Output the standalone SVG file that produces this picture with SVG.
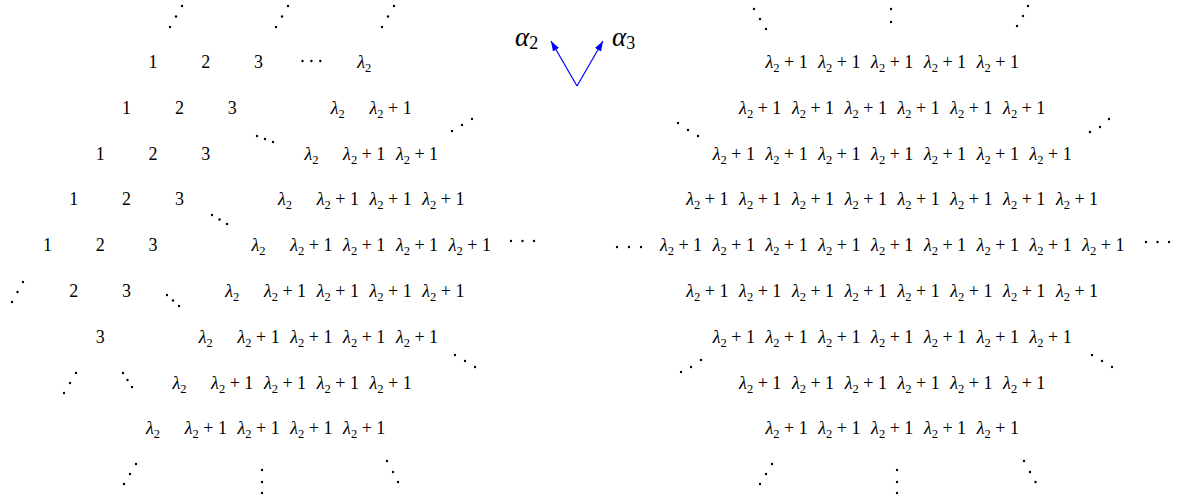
<svg xmlns="http://www.w3.org/2000/svg" width="1182" height="504" viewBox="0 0 1182 504">
<style>
text{font-family:"Liberation Serif","Times New Roman",serif;font-size:18px;fill:#000;text-anchor:middle}
.i{font-style:italic}
.s{font-size:12.5px}
.a{font-size:27px;text-anchor:start}
.as{font-size:18px}
.d circle{fill:#000}
.c line{stroke:#0000ff;stroke-width:1.2;marker-end:url(#ah)}
</style>
<defs><marker id="ah" markerUnits="userSpaceOnUse" markerWidth="11" markerHeight="8" refX="10" refY="3.5" orient="auto"><path d="M0,0 L10,3.5 L0,7 z" fill="#0000ff"/></marker></defs>
<rect width="1182" height="504" fill="#fff"/>
<g id="alpha2"><text class="a" x="515" y="46"><tspan class="i">α</tspan><tspan class="as" dy="3">2</tspan></text></g>
<g id="alpha3"><text class="a" x="612" y="46"><tspan class="i">α</tspan><tspan class="as" dy="3">3</tspan></text></g>
<g id="connectors" class="c"><line x1="577" y1="86" x2="551" y2="41"/><line x1="577" y1="86" x2="603" y2="41"/></g>
<g id="left">
<g id="n0_0"><text x="153" y="68">1</text></g>
<g id="n0_1"><text x="205.8" y="68">2</text></g>
<g id="n0_2"><text x="258.6" y="68">3</text></g>
<g id="n0_4"><text x="364.2" y="68"><tspan class="i">λ</tspan><tspan class="s" dy="4">2</tspan></text></g>
<g id="n1_0"><text x="126.6" y="113.8">1</text></g>
<g id="n1_1"><text x="179.4" y="113.8">2</text></g>
<g id="n1_2"><text x="232.2" y="113.8">3</text></g>
<g id="n1_4"><text x="337.8" y="113.8"><tspan class="i">λ</tspan><tspan class="s" dy="4">2</tspan></text></g>
<g id="n1_5"><text x="390.6" y="113.8"><tspan class="i">λ</tspan><tspan class="s" dy="4">2</tspan><tspan dy="-4"> + 1</tspan></text></g>
<g id="n2_0"><text x="100.2" y="159.6">1</text></g>
<g id="n2_1"><text x="153" y="159.6">2</text></g>
<g id="n2_2"><text x="205.8" y="159.6">3</text></g>
<g id="n2_4"><text x="311.4" y="159.6"><tspan class="i">λ</tspan><tspan class="s" dy="4">2</tspan></text></g>
<g id="n2_5"><text x="364.2" y="159.6"><tspan class="i">λ</tspan><tspan class="s" dy="4">2</tspan><tspan dy="-4"> + 1</tspan></text></g>
<g id="n2_6"><text x="417" y="159.6"><tspan class="i">λ</tspan><tspan class="s" dy="4">2</tspan><tspan dy="-4"> + 1</tspan></text></g>
<g id="n3_0"><text x="73.8" y="205.4">1</text></g>
<g id="n3_1"><text x="126.6" y="205.4">2</text></g>
<g id="n3_2"><text x="179.4" y="205.4">3</text></g>
<g id="n3_4"><text x="285" y="205.4"><tspan class="i">λ</tspan><tspan class="s" dy="4">2</tspan></text></g>
<g id="n3_5"><text x="337.8" y="205.4"><tspan class="i">λ</tspan><tspan class="s" dy="4">2</tspan><tspan dy="-4"> + 1</tspan></text></g>
<g id="n3_6"><text x="390.6" y="205.4"><tspan class="i">λ</tspan><tspan class="s" dy="4">2</tspan><tspan dy="-4"> + 1</tspan></text></g>
<g id="n3_7"><text x="443.4" y="205.4"><tspan class="i">λ</tspan><tspan class="s" dy="4">2</tspan><tspan dy="-4"> + 1</tspan></text></g>
<g id="n4_0"><text x="47.4" y="251.2">1</text></g>
<g id="n4_1"><text x="100.2" y="251.2">2</text></g>
<g id="n4_2"><text x="153" y="251.2">3</text></g>
<g id="n4_4"><text x="258.6" y="251.2"><tspan class="i">λ</tspan><tspan class="s" dy="4">2</tspan></text></g>
<g id="n4_5"><text x="311.4" y="251.2"><tspan class="i">λ</tspan><tspan class="s" dy="4">2</tspan><tspan dy="-4"> + 1</tspan></text></g>
<g id="n4_6"><text x="364.2" y="251.2"><tspan class="i">λ</tspan><tspan class="s" dy="4">2</tspan><tspan dy="-4"> + 1</tspan></text></g>
<g id="n4_7"><text x="417" y="251.2"><tspan class="i">λ</tspan><tspan class="s" dy="4">2</tspan><tspan dy="-4"> + 1</tspan></text></g>
<g id="n4_8"><text x="469.8" y="251.2"><tspan class="i">λ</tspan><tspan class="s" dy="4">2</tspan><tspan dy="-4"> + 1</tspan></text></g>
<g id="n5_1"><text x="73.8" y="297">2</text></g>
<g id="n5_2"><text x="126.6" y="297">3</text></g>
<g id="n5_4"><text x="232.2" y="297"><tspan class="i">λ</tspan><tspan class="s" dy="4">2</tspan></text></g>
<g id="n5_5"><text x="285" y="297"><tspan class="i">λ</tspan><tspan class="s" dy="4">2</tspan><tspan dy="-4"> + 1</tspan></text></g>
<g id="n5_6"><text x="337.8" y="297"><tspan class="i">λ</tspan><tspan class="s" dy="4">2</tspan><tspan dy="-4"> + 1</tspan></text></g>
<g id="n5_7"><text x="390.6" y="297"><tspan class="i">λ</tspan><tspan class="s" dy="4">2</tspan><tspan dy="-4"> + 1</tspan></text></g>
<g id="n5_8"><text x="443.4" y="297"><tspan class="i">λ</tspan><tspan class="s" dy="4">2</tspan><tspan dy="-4"> + 1</tspan></text></g>
<g id="n6_2"><text x="100.2" y="342.8">3</text></g>
<g id="n6_4"><text x="205.8" y="342.8"><tspan class="i">λ</tspan><tspan class="s" dy="4">2</tspan></text></g>
<g id="n6_5"><text x="258.6" y="342.8"><tspan class="i">λ</tspan><tspan class="s" dy="4">2</tspan><tspan dy="-4"> + 1</tspan></text></g>
<g id="n6_6"><text x="311.4" y="342.8"><tspan class="i">λ</tspan><tspan class="s" dy="4">2</tspan><tspan dy="-4"> + 1</tspan></text></g>
<g id="n6_7"><text x="364.2" y="342.8"><tspan class="i">λ</tspan><tspan class="s" dy="4">2</tspan><tspan dy="-4"> + 1</tspan></text></g>
<g id="n6_8"><text x="417" y="342.8"><tspan class="i">λ</tspan><tspan class="s" dy="4">2</tspan><tspan dy="-4"> + 1</tspan></text></g>
<g id="n7_4"><text x="179.4" y="388.6"><tspan class="i">λ</tspan><tspan class="s" dy="4">2</tspan></text></g>
<g id="n7_5"><text x="232.2" y="388.6"><tspan class="i">λ</tspan><tspan class="s" dy="4">2</tspan><tspan dy="-4"> + 1</tspan></text></g>
<g id="n7_6"><text x="285" y="388.6"><tspan class="i">λ</tspan><tspan class="s" dy="4">2</tspan><tspan dy="-4"> + 1</tspan></text></g>
<g id="n7_7"><text x="337.8" y="388.6"><tspan class="i">λ</tspan><tspan class="s" dy="4">2</tspan><tspan dy="-4"> + 1</tspan></text></g>
<g id="n7_8"><text x="390.6" y="388.6"><tspan class="i">λ</tspan><tspan class="s" dy="4">2</tspan><tspan dy="-4"> + 1</tspan></text></g>
<g id="n8_4"><text x="153" y="434.4"><tspan class="i">λ</tspan><tspan class="s" dy="4">2</tspan></text></g>
<g id="n8_5"><text x="205.8" y="434.4"><tspan class="i">λ</tspan><tspan class="s" dy="4">2</tspan><tspan dy="-4"> + 1</tspan></text></g>
<g id="n8_6"><text x="258.6" y="434.4"><tspan class="i">λ</tspan><tspan class="s" dy="4">2</tspan><tspan dy="-4"> + 1</tspan></text></g>
<g id="n8_7"><text x="311.4" y="434.4"><tspan class="i">λ</tspan><tspan class="s" dy="4">2</tspan><tspan dy="-4"> + 1</tspan></text></g>
<g id="n8_8"><text x="364.2" y="434.4"><tspan class="i">λ</tspan><tspan class="s" dy="4">2</tspan><tspan dy="-4"> + 1</tspan></text></g>
</g>
<g id="right">
<g id="m0_12"><text x="786.6" y="68"><tspan class="i">λ</tspan><tspan class="s" dy="4">2</tspan><tspan dy="-4"> + 1</tspan></text></g>
<g id="m0_13"><text x="839.4" y="68"><tspan class="i">λ</tspan><tspan class="s" dy="4">2</tspan><tspan dy="-4"> + 1</tspan></text></g>
<g id="m0_14"><text x="892.2" y="68"><tspan class="i">λ</tspan><tspan class="s" dy="4">2</tspan><tspan dy="-4"> + 1</tspan></text></g>
<g id="m0_15"><text x="945" y="68"><tspan class="i">λ</tspan><tspan class="s" dy="4">2</tspan><tspan dy="-4"> + 1</tspan></text></g>
<g id="m0_16"><text x="997.8" y="68"><tspan class="i">λ</tspan><tspan class="s" dy="4">2</tspan><tspan dy="-4"> + 1</tspan></text></g>
<g id="m1_12"><text x="760.2" y="113.8"><tspan class="i">λ</tspan><tspan class="s" dy="4">2</tspan><tspan dy="-4"> + 1</tspan></text></g>
<g id="m1_13"><text x="813" y="113.8"><tspan class="i">λ</tspan><tspan class="s" dy="4">2</tspan><tspan dy="-4"> + 1</tspan></text></g>
<g id="m1_14"><text x="865.8" y="113.8"><tspan class="i">λ</tspan><tspan class="s" dy="4">2</tspan><tspan dy="-4"> + 1</tspan></text></g>
<g id="m1_15"><text x="918.6" y="113.8"><tspan class="i">λ</tspan><tspan class="s" dy="4">2</tspan><tspan dy="-4"> + 1</tspan></text></g>
<g id="m1_16"><text x="971.4" y="113.8"><tspan class="i">λ</tspan><tspan class="s" dy="4">2</tspan><tspan dy="-4"> + 1</tspan></text></g>
<g id="m1_17"><text x="1024.2" y="113.8"><tspan class="i">λ</tspan><tspan class="s" dy="4">2</tspan><tspan dy="-4"> + 1</tspan></text></g>
<g id="m2_12"><text x="733.8" y="159.6"><tspan class="i">λ</tspan><tspan class="s" dy="4">2</tspan><tspan dy="-4"> + 1</tspan></text></g>
<g id="m2_13"><text x="786.6" y="159.6"><tspan class="i">λ</tspan><tspan class="s" dy="4">2</tspan><tspan dy="-4"> + 1</tspan></text></g>
<g id="m2_14"><text x="839.4" y="159.6"><tspan class="i">λ</tspan><tspan class="s" dy="4">2</tspan><tspan dy="-4"> + 1</tspan></text></g>
<g id="m2_15"><text x="892.2" y="159.6"><tspan class="i">λ</tspan><tspan class="s" dy="4">2</tspan><tspan dy="-4"> + 1</tspan></text></g>
<g id="m2_16"><text x="945" y="159.6"><tspan class="i">λ</tspan><tspan class="s" dy="4">2</tspan><tspan dy="-4"> + 1</tspan></text></g>
<g id="m2_17"><text x="997.8" y="159.6"><tspan class="i">λ</tspan><tspan class="s" dy="4">2</tspan><tspan dy="-4"> + 1</tspan></text></g>
<g id="m2_18"><text x="1050.6" y="159.6"><tspan class="i">λ</tspan><tspan class="s" dy="4">2</tspan><tspan dy="-4"> + 1</tspan></text></g>
<g id="m3_12"><text x="707.4" y="205.4"><tspan class="i">λ</tspan><tspan class="s" dy="4">2</tspan><tspan dy="-4"> + 1</tspan></text></g>
<g id="m3_13"><text x="760.2" y="205.4"><tspan class="i">λ</tspan><tspan class="s" dy="4">2</tspan><tspan dy="-4"> + 1</tspan></text></g>
<g id="m3_14"><text x="813" y="205.4"><tspan class="i">λ</tspan><tspan class="s" dy="4">2</tspan><tspan dy="-4"> + 1</tspan></text></g>
<g id="m3_15"><text x="865.8" y="205.4"><tspan class="i">λ</tspan><tspan class="s" dy="4">2</tspan><tspan dy="-4"> + 1</tspan></text></g>
<g id="m3_16"><text x="918.6" y="205.4"><tspan class="i">λ</tspan><tspan class="s" dy="4">2</tspan><tspan dy="-4"> + 1</tspan></text></g>
<g id="m3_17"><text x="971.4" y="205.4"><tspan class="i">λ</tspan><tspan class="s" dy="4">2</tspan><tspan dy="-4"> + 1</tspan></text></g>
<g id="m3_18"><text x="1024.2" y="205.4"><tspan class="i">λ</tspan><tspan class="s" dy="4">2</tspan><tspan dy="-4"> + 1</tspan></text></g>
<g id="m3_19"><text x="1077" y="205.4"><tspan class="i">λ</tspan><tspan class="s" dy="4">2</tspan><tspan dy="-4"> + 1</tspan></text></g>
<g id="m4_12"><text x="681" y="251.2"><tspan class="i">λ</tspan><tspan class="s" dy="4">2</tspan><tspan dy="-4"> + 1</tspan></text></g>
<g id="m4_13"><text x="733.8" y="251.2"><tspan class="i">λ</tspan><tspan class="s" dy="4">2</tspan><tspan dy="-4"> + 1</tspan></text></g>
<g id="m4_14"><text x="786.6" y="251.2"><tspan class="i">λ</tspan><tspan class="s" dy="4">2</tspan><tspan dy="-4"> + 1</tspan></text></g>
<g id="m4_15"><text x="839.4" y="251.2"><tspan class="i">λ</tspan><tspan class="s" dy="4">2</tspan><tspan dy="-4"> + 1</tspan></text></g>
<g id="m4_16"><text x="892.2" y="251.2"><tspan class="i">λ</tspan><tspan class="s" dy="4">2</tspan><tspan dy="-4"> + 1</tspan></text></g>
<g id="m4_17"><text x="945" y="251.2"><tspan class="i">λ</tspan><tspan class="s" dy="4">2</tspan><tspan dy="-4"> + 1</tspan></text></g>
<g id="m4_18"><text x="997.8" y="251.2"><tspan class="i">λ</tspan><tspan class="s" dy="4">2</tspan><tspan dy="-4"> + 1</tspan></text></g>
<g id="m4_19"><text x="1050.6" y="251.2"><tspan class="i">λ</tspan><tspan class="s" dy="4">2</tspan><tspan dy="-4"> + 1</tspan></text></g>
<g id="m4_20"><text x="1103.4" y="251.2"><tspan class="i">λ</tspan><tspan class="s" dy="4">2</tspan><tspan dy="-4"> + 1</tspan></text></g>
<g id="m5_13"><text x="707.4" y="297"><tspan class="i">λ</tspan><tspan class="s" dy="4">2</tspan><tspan dy="-4"> + 1</tspan></text></g>
<g id="m5_14"><text x="760.2" y="297"><tspan class="i">λ</tspan><tspan class="s" dy="4">2</tspan><tspan dy="-4"> + 1</tspan></text></g>
<g id="m5_15"><text x="813" y="297"><tspan class="i">λ</tspan><tspan class="s" dy="4">2</tspan><tspan dy="-4"> + 1</tspan></text></g>
<g id="m5_16"><text x="865.8" y="297"><tspan class="i">λ</tspan><tspan class="s" dy="4">2</tspan><tspan dy="-4"> + 1</tspan></text></g>
<g id="m5_17"><text x="918.6" y="297"><tspan class="i">λ</tspan><tspan class="s" dy="4">2</tspan><tspan dy="-4"> + 1</tspan></text></g>
<g id="m5_18"><text x="971.4" y="297"><tspan class="i">λ</tspan><tspan class="s" dy="4">2</tspan><tspan dy="-4"> + 1</tspan></text></g>
<g id="m5_19"><text x="1024.2" y="297"><tspan class="i">λ</tspan><tspan class="s" dy="4">2</tspan><tspan dy="-4"> + 1</tspan></text></g>
<g id="m5_20"><text x="1077" y="297"><tspan class="i">λ</tspan><tspan class="s" dy="4">2</tspan><tspan dy="-4"> + 1</tspan></text></g>
<g id="m6_14"><text x="733.8" y="342.8"><tspan class="i">λ</tspan><tspan class="s" dy="4">2</tspan><tspan dy="-4"> + 1</tspan></text></g>
<g id="m6_15"><text x="786.6" y="342.8"><tspan class="i">λ</tspan><tspan class="s" dy="4">2</tspan><tspan dy="-4"> + 1</tspan></text></g>
<g id="m6_16"><text x="839.4" y="342.8"><tspan class="i">λ</tspan><tspan class="s" dy="4">2</tspan><tspan dy="-4"> + 1</tspan></text></g>
<g id="m6_17"><text x="892.2" y="342.8"><tspan class="i">λ</tspan><tspan class="s" dy="4">2</tspan><tspan dy="-4"> + 1</tspan></text></g>
<g id="m6_18"><text x="945" y="342.8"><tspan class="i">λ</tspan><tspan class="s" dy="4">2</tspan><tspan dy="-4"> + 1</tspan></text></g>
<g id="m6_19"><text x="997.8" y="342.8"><tspan class="i">λ</tspan><tspan class="s" dy="4">2</tspan><tspan dy="-4"> + 1</tspan></text></g>
<g id="m6_20"><text x="1050.6" y="342.8"><tspan class="i">λ</tspan><tspan class="s" dy="4">2</tspan><tspan dy="-4"> + 1</tspan></text></g>
<g id="m7_15"><text x="760.2" y="388.6"><tspan class="i">λ</tspan><tspan class="s" dy="4">2</tspan><tspan dy="-4"> + 1</tspan></text></g>
<g id="m7_16"><text x="813" y="388.6"><tspan class="i">λ</tspan><tspan class="s" dy="4">2</tspan><tspan dy="-4"> + 1</tspan></text></g>
<g id="m7_17"><text x="865.8" y="388.6"><tspan class="i">λ</tspan><tspan class="s" dy="4">2</tspan><tspan dy="-4"> + 1</tspan></text></g>
<g id="m7_18"><text x="918.6" y="388.6"><tspan class="i">λ</tspan><tspan class="s" dy="4">2</tspan><tspan dy="-4"> + 1</tspan></text></g>
<g id="m7_19"><text x="971.4" y="388.6"><tspan class="i">λ</tspan><tspan class="s" dy="4">2</tspan><tspan dy="-4"> + 1</tspan></text></g>
<g id="m7_20"><text x="1024.2" y="388.6"><tspan class="i">λ</tspan><tspan class="s" dy="4">2</tspan><tspan dy="-4"> + 1</tspan></text></g>
<g id="m8_16"><text x="786.6" y="434.4"><tspan class="i">λ</tspan><tspan class="s" dy="4">2</tspan><tspan dy="-4"> + 1</tspan></text></g>
<g id="m8_17"><text x="839.4" y="434.4"><tspan class="i">λ</tspan><tspan class="s" dy="4">2</tspan><tspan dy="-4"> + 1</tspan></text></g>
<g id="m8_18"><text x="892.2" y="434.4"><tspan class="i">λ</tspan><tspan class="s" dy="4">2</tspan><tspan dy="-4"> + 1</tspan></text></g>
<g id="m8_19"><text x="945" y="434.4"><tspan class="i">λ</tspan><tspan class="s" dy="4">2</tspan><tspan dy="-4"> + 1</tspan></text></g>
<g id="m8_20"><text x="997.8" y="434.4"><tspan class="i">λ</tspan><tspan class="s" dy="4">2</tspan><tspan dy="-4"> + 1</tspan></text></g>
</g>
<g id="dots" class="d">
<circle cx="170" cy="27" r="1.2"/><circle cx="176" cy="16.5" r="1.2"/><circle cx="182" cy="6" r="1.2"/>
<circle cx="276" cy="27" r="1.2"/><circle cx="282" cy="16.5" r="1.2"/><circle cx="288" cy="6" r="1.2"/>
<circle cx="382" cy="27" r="1.2"/><circle cx="388" cy="16.5" r="1.2"/><circle cx="394" cy="6" r="1.2"/>
<circle cx="302.5" cy="61" r="1.2"/><circle cx="311.4" cy="61" r="1.2"/><circle cx="320.3" cy="61" r="1.2"/>
<circle cx="452" cy="131" r="1.2"/><circle cx="462" cy="125" r="1.2"/><circle cx="472" cy="119" r="1.2"/>
<circle cx="257" cy="136" r="1.2"/><circle cx="265" cy="139" r="1.2"/><circle cx="273" cy="142" r="1.2"/>
<circle cx="212" cy="215" r="1.2"/><circle cx="219.5" cy="219.5" r="1.2"/><circle cx="227" cy="224" r="1.2"/>
<circle cx="511" cy="241" r="1.2"/><circle cx="522.5" cy="241" r="1.2"/><circle cx="534" cy="241" r="1.2"/>
<circle cx="12" cy="302" r="1.2"/><circle cx="17.5" cy="292" r="1.2"/><circle cx="23" cy="282" r="1.2"/>
<circle cx="167" cy="295" r="1.2"/><circle cx="173" cy="300.5" r="1.2"/><circle cx="179" cy="306" r="1.2"/>
<circle cx="455" cy="355" r="1.2"/><circle cx="465" cy="361" r="1.2"/><circle cx="475" cy="367" r="1.2"/>
<circle cx="64" cy="393" r="1.2"/><circle cx="70" cy="383" r="1.2"/><circle cx="76" cy="373" r="1.2"/>
<circle cx="123" cy="373" r="1.2"/><circle cx="127.5" cy="380" r="1.2"/><circle cx="132" cy="387" r="1.2"/>
<circle cx="124" cy="484" r="1.2"/><circle cx="130" cy="474" r="1.2"/><circle cx="136" cy="464" r="1.2"/>
<circle cx="262" cy="470" r="1.2"/><circle cx="262" cy="482" r="1.2"/><circle cx="262" cy="493" r="1.2"/>
<circle cx="387" cy="461" r="1.2"/><circle cx="393" cy="472" r="1.2"/><circle cx="398" cy="482" r="1.2"/>
<circle cx="754" cy="9" r="1.2"/><circle cx="760" cy="19" r="1.2"/><circle cx="766" cy="29" r="1.2"/>
<circle cx="891" cy="9" r="1.2"/><circle cx="891" cy="22" r="1.2"/>
<circle cx="1017" cy="26" r="1.2"/><circle cx="1023" cy="16" r="1.2"/><circle cx="1028" cy="6" r="1.2"/>
<circle cx="678" cy="123" r="1.2"/><circle cx="688" cy="130" r="1.2"/><circle cx="698" cy="136" r="1.2"/>
<circle cx="1090" cy="132" r="1.2"/><circle cx="1100" cy="127" r="1.2"/><circle cx="1109" cy="119" r="1.2"/>
<circle cx="617" cy="247" r="1.2"/><circle cx="629" cy="247" r="1.2"/><circle cx="641" cy="247" r="1.2"/>
<circle cx="1146" cy="242" r="1.2"/><circle cx="1157.5" cy="242" r="1.2"/><circle cx="1169" cy="242" r="1.2"/>
<circle cx="681" cy="372" r="1.2"/><circle cx="691" cy="367" r="1.2"/><circle cx="701" cy="360" r="1.2"/>
<circle cx="1092" cy="355" r="1.2"/><circle cx="1102" cy="361" r="1.2"/><circle cx="1112" cy="367" r="1.2"/>
<circle cx="760" cy="484" r="1.2"/><circle cx="766" cy="474" r="1.2"/><circle cx="772" cy="464" r="1.2"/>
<circle cx="897" cy="470" r="1.2"/><circle cx="897" cy="482" r="1.2"/><circle cx="897" cy="493" r="1.2"/>
<circle cx="1024" cy="461" r="1.2"/><circle cx="1030" cy="472" r="1.2"/><circle cx="1035.5" cy="482" r="1.2"/>
</g>
</svg>
